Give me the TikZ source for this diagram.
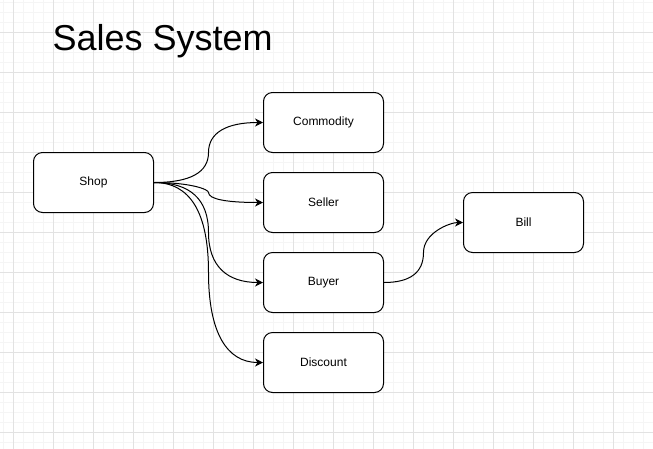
\documentclass[tikz,border=0pt]{standalone}
\usepackage{fontspec}
\setmainfont{Liberation Sans}
\usetikzlibrary{arrows.meta}
\definecolor{gridminor}{HTML}{F5F5F5}
\definecolor{gridmajor}{HTML}{E2E2E2}
\tikzset{
  box/.style={draw=black, line width=1pt, rounded corners=9pt, fill=white,
    minimum width=120pt, minimum height=60pt, inner sep=0pt,
    font=\fontsize{12}{14}\selectfont},
  edge/.style={draw=black, line width=1pt,
    -{Stealth[length=8pt,width=8pt,inset=2.5pt]}},
}
\begin{document}
\begin{tikzpicture}[x=1pt,y=-1pt]
\useasboundingbox (0,0) rectangle (653,448);
\fill[white] (0,0) rectangle (653,448);
\begin{scope}[shift={(0.5,0.5)}]
% grid
\foreach \x in {3,13,...,653} \draw[gridminor, line width=1pt] (\x,-1) -- (\x,448);
\foreach \y in {2,12,...,448} \draw[gridminor, line width=1pt] (-1,\y) -- (653,\y);
\foreach \x in {13,53,...,653} \draw[gridmajor, line width=1pt] (\x,-1) -- (\x,448);
\foreach \y in {32,72,...,448} \draw[gridmajor, line width=1pt] (-1,\y) -- (653,\y);
% title
\node[anchor=base west, inner sep=0pt, font=\fontsize{36}{43}\selectfont] (title) at (52,50) {Sales System};
% nodes
\node[box] (shop) at (93,182) {Shop};
\node[box] (commodity) at (323,122) {Commodity};
\node[box] (seller) at (323,202) {Seller};
\node[box] (buyer) at (323,282) {Buyer};
\node[box] (discount) at (323,362) {Discount};
\node[box] (bill) at (523,222) {Bill};
% edges
\draw[edge] (shop.east) .. controls (189.7,182) and (208,172) .. (208,152)
  .. controls (208,132) and (226.3,122) .. (commodity.west);
\draw[edge] (shop.east) .. controls (189.7,182) and (208,188.7) .. (208,192)
  .. controls (208,198.7) and (226.3,202) .. (seller.west);
\draw[edge] (shop.east) .. controls (189.7,182) and (208,198.7) .. (208,232)
  .. controls (208,265.3) and (226.3,282) .. (buyer.west);
\draw[edge] (shop.east) .. controls (189.7,182) and (208,212) .. (208,272)
  .. controls (208,332) and (226.3,362) .. (discount.west);
\draw[edge] (buyer.east) .. controls (409.7,282) and (423,272) .. (423,252)
  .. controls (423,232) and (449.7,222) .. (bill.west);
\end{scope}
\end{tikzpicture}
\end{document}
